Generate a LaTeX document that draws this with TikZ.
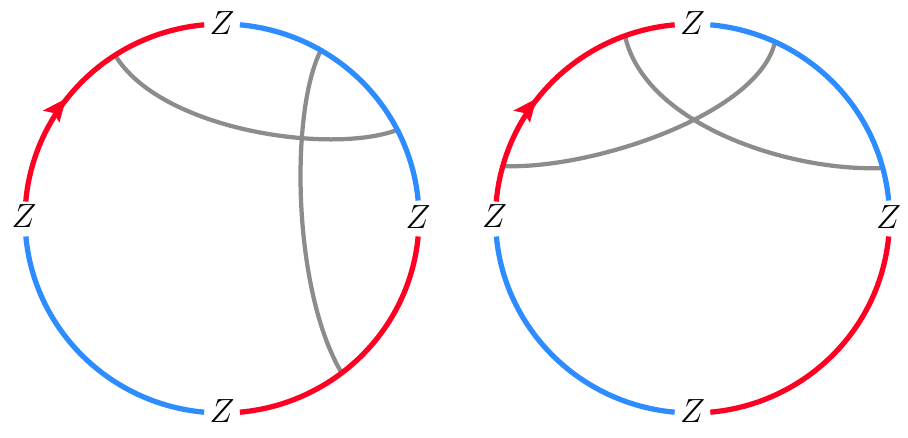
\documentclass[tikz,border=0pt]{standalone}
\usepackage{graphicx}
\definecolor{cred}{RGB}{255,0,35}
\definecolor{cblue}{RGB}{45,140,255}
\definecolor{cgray}{RGB}{140,140,140}
\newcommand{\zlab}{\scalebox{0.92}{$Z$}}
\begin{document}
\begin{tikzpicture}[x=0.02cm,y=0.02cm,
  rim/.style={line width=0.105cm},
  chord/.style={line width=0.085cm, cgray},
  lab/.style={inner sep=0pt, font=\huge},
  headfill/.style={fill=cred}]
\useasboundingbox (0,0) rectangle (908,-437);
% chord end points
\coordinate (a1) at (115,-55);
\coordinate (a2) at (397,-130);
\coordinate (b1) at (321,-50);
\coordinate (b2) at (342,-373.5);
\coordinate (c1) at (625,-36);
\coordinate (c2) at (883,-168);
\coordinate (d1) at (775,-42);
\coordinate (d2) at (503,-166);
% chords
\draw[chord] (a1) .. controls (160,-130) and (330,-155) .. (a2);
\draw[chord] (b1) .. controls (290,-110) and (292,-290) .. (b2);
\draw[chord] (c1) .. controls (645,-125) and (790,-172) .. (c2);
\draw[chord] (d1) .. controls (758,-115) and (590,-170) .. (d2);
% left circle
\begin{scope}[shift={(222,-218.5)}]
  \draw[rim,cred] (175:197 and 194.5) arc[start angle=175,end angle=95.2,x radius=197,y radius=194.5];
  \fill[headfill] (-156,120) -- (-179.2,107.8) -- (-168.4,105.5) -- (-162.6,95.8) -- cycle;
  \draw[rim,cblue] (84.8:197 and 194.5) arc[start angle=84.8,end angle=5.3,x radius=197,y radius=194.5];
  \draw[rim,cred] (-5.3:197 and 194.5) arc[start angle=-5.3,end angle=-84.8,x radius=197,y radius=194.5];
  \draw[rim,cblue] (-95.2:197 and 194.5) arc[start angle=-95.2,end angle=-174.7,x radius=197,y radius=194.5];
  \node[lab] (lt) at (0,195) {\zlab};
  \node[lab] (ll) at (-198,2.5) {\zlab};
  \node[lab] (lr) at (196,1.5) {\zlab};
  \node[lab] (lb) at (0,-193) {\zlab};
\end{scope}
% right circle
\begin{scope}[shift={(692.5,-218.5)}]
  \draw[rim,cred] (175:197 and 194.5) arc[start angle=175,end angle=95.2,x radius=197,y radius=194.5];
  \fill[headfill] (-156,120) -- (-179.2,107.8) -- (-168.4,105.5) -- (-162.6,95.8) -- cycle;
  \draw[rim,cblue] (84.8:197 and 194.5) arc[start angle=84.8,end angle=5.3,x radius=197,y radius=194.5];
  \draw[rim,cred] (-5.3:197 and 194.5) arc[start angle=-5.3,end angle=-84.8,x radius=197,y radius=194.5];
  \draw[rim,cblue] (-95.2:197 and 194.5) arc[start angle=-95.2,end angle=-174.7,x radius=197,y radius=194.5];
  \node[lab] (rt) at (0,195) {\zlab};
  \node[lab] (rl) at (-198,2.5) {\zlab};
  \node[lab] (rr) at (196,1.5) {\zlab};
  \node[lab] (rb) at (0,-193) {\zlab};
\end{scope}
\end{tikzpicture}
\end{document}
